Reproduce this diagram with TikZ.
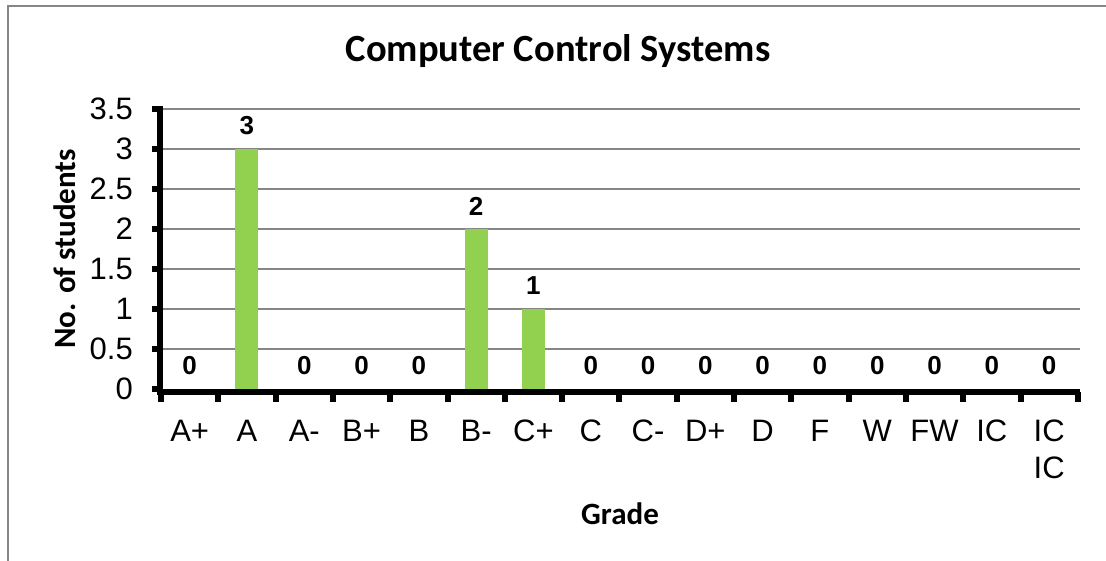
\documentclass[tikz,border=0pt]{standalone}
\usepackage{fontspec}
\setmainfont{Liberation Sans}
\newfontfamily\calfont{Carlito}
\usepackage{tikz}
\usetikzlibrary{positioning}
\definecolor{barfill}{HTML}{92D050}
\definecolor{gridgray}{HTML}{868686}

\begin{document}
\begin{tikzpicture}[x=1pt, y=1pt,
    every node/.style={inner sep=0pt},
    ticklabel/.style={font=\fontsize{31}{37}\selectfont},
    vallabel/.style={font=\bfseries\fontsize{26}{30}\selectfont},
    axtitle/.style={font=\calfont\bfseries\fontsize{31}{36}\selectfont},
    gridline/.style={gridgray, line width=2pt},
    axisline/.style={black, line width=6pt}]
  \useasboundingbox (0,0) rectangle (1106,561);
  % chart frame
  \draw[gridgray, line width=2pt] (8,0) -- (8,555) -- (1106,555);
  \node (title)[font=\calfont\bfseries\fontsize{38.5}{42}\selectfont, anchor=base] at (558,499) {Computer Control Systems};
  % grid and y ticks
  \foreach \v [count=\k from 0] in {0,0.5,...,3.5} {
    \ifnum\k>0 \draw[gridline] (161,172+80*\v) -- (1080,172+80*\v); \fi
    \draw[axisline] (160,172+80*\v) -- (152,172+80*\v);
    \node (y\k)[ticklabel, anchor=east] at (133,172+80*\v) {\v};
  }
  % bars, value labels and grades
  \foreach \g/\n [count=\i from 0] in {A+/0,A/3,A-/0,B+/0,B/0,B-/2,C+/1,C/0,C-/0,D+/0,D/0,F/0,W/0,FW/0,IC/0,{IC\\IC}/0} {
    \pgfmathsetmacro\xc{161+57.3*(\i+0.5)}
    \ifnum\n>0 \fill[barfill] (\xc-11.5,172) rectangle (\xc+11.5,172+80*\n); \fi
    \node (v\i)[vallabel] at (\xc,172+80*\n+23) {\n};
    \node (c\i)[ticklabel, anchor=north, align=center] at (\xc,141) {\g};
  }
  % axes
  \draw[axisline] (160,169) -- (160,455);
  \draw[axisline] (157,169) -- (1080,169);
  \foreach \i in {0,...,16}
    \draw[axisline] (161+57.3*\i,169) -- (161+57.3*\i,159);
  \node (xtitle)[axtitle, anchor=base] at (620,36) {Grade};
  \node (ytitle)[axtitle, anchor=base, rotate=90] at (75,312) {No. of students};
\end{tikzpicture}
\end{document}
